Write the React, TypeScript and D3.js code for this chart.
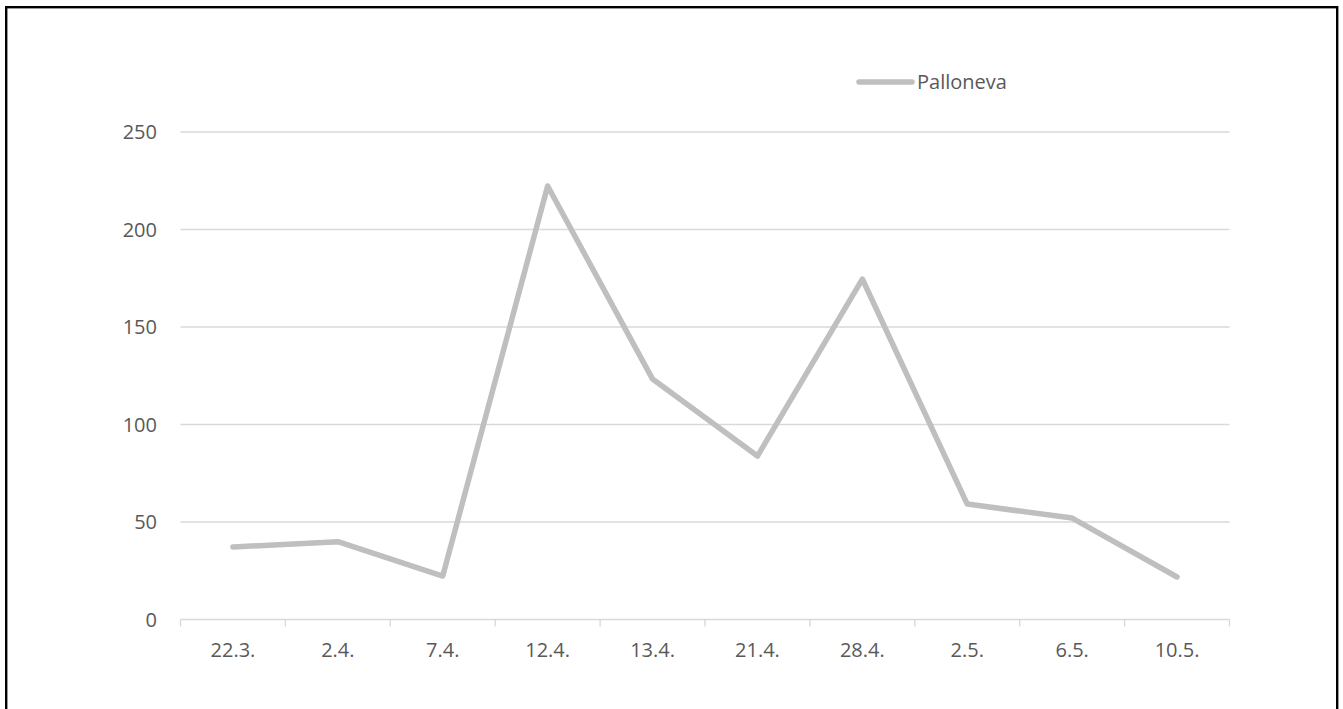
import React from "react";
import * as d3 from "d3";

const categories = ["22.3.", "2.4.", "7.4.", "12.4.", "13.4.", "21.4.", "28.4.", "2.5.", "6.5.", "10.5."];
const palloneva = [37.2, 39.9, 22.3, 222.3, 123.3, 83.8, 174.6, 59.2, 52, 21.8];
const yTicks = [0, 50, 100, 150, 200, 250];
const seriesName = "Palloneva";

const W = 1343;
const H = 709;
const left = 180.5;
const right = 1229.5;
const top = 132;
const bottom = 619.5;
const font = "'Open Sans', sans-serif";

export default function App() {
  const x = d3.scaleBand<string>().domain(categories).range([left, right]);
  const y = d3.scaleLinear().domain([0, 250]).range([bottom, top]);
  const line = d3
    .line<number>()
    .x((_, i) => (x(categories[i]) as number) + x.bandwidth() / 2)
    .y((d) => y(d));
  const tickXs = categories.map((c) => x(c) as number).concat([right]);

  return (
    <svg
      width={W}
      height={H}
      style={{ position: "absolute", left: 0, top: 0, background: "#fff" }}
    >
      <rect x={6.2} y={7.2} width={1331} height={720} fill="#fff" stroke="#000" strokeWidth={2.4} />
      {yTicks.map((t) => (
        <g key={t}>
          {t !== 0 && (
            <line x1={left} x2={right} y1={y(t)} y2={y(t)} stroke="#d9d9d9" strokeWidth={1.4} />
          )}
          <text
            x={157}
            y={y(t)}
            dy="0.35em"
            textAnchor="end"
            fontFamily={font}
            fontSize={20}
            fill="#595959"
          >
            {t}
          </text>
        </g>
      ))}
      <line x1={left} x2={right} y1={bottom} y2={bottom} stroke="#d9d9d9" strokeWidth={1.4} />
      {tickXs.map((tx, i) => (
        <line key={i} x1={tx} x2={tx} y1={bottom} y2={bottom + 7} stroke="#d9d9d9" strokeWidth={1.4} />
      ))}
      {categories.map((c) => (
        <text
          key={c}
          x={(x(c) as number) + x.bandwidth() / 2}
          y={650}
          dy="0.35em"
          textAnchor="middle"
          fontFamily={font}
          fontSize={20}
          fill="#595959"
        >
          {c}
        </text>
      ))}
      <path
        d={line(palloneva) || ""}
        fill="none"
        stroke="#bfbfbf"
        strokeWidth={5.5}
        strokeLinecap="round"
        strokeLinejoin="round"
      />
      <line x1={859} x2={912} y1={82} y2={82} stroke="#bfbfbf" strokeWidth={5.5} strokeLinecap="round" />
      <text x={917} y={82} dy="0.35em" fontFamily={font} fontSize={20} fill="#595959">
        {seriesName}
      </text>
    </svg>
  );
}
